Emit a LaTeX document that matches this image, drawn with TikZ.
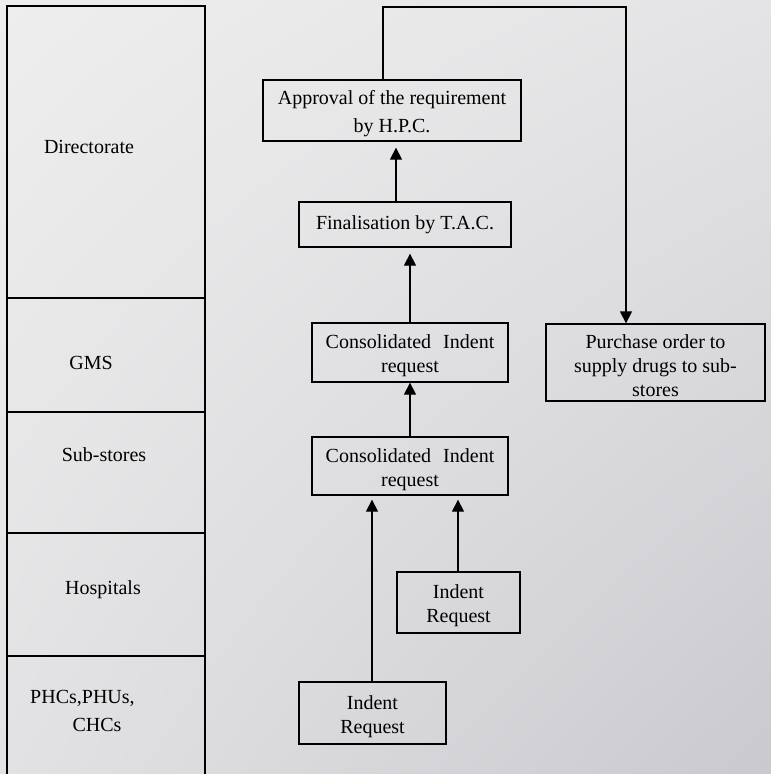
\documentclass[tikz,border=0pt]{standalone}
\usepackage{fontspec}
\setmainfont{Liberation Serif}
\usetikzlibrary{arrows.meta,shadings}
\definecolor{paperUL}{RGB}{238,238,238}
\definecolor{paperUR}{RGB}{228,228,230}
\definecolor{paperLL}{RGB}{226,226,228}
\definecolor{paperLR}{RGB}{202,201,206}
% taller first line, sets the text block a little lower in its box
\newcommand\firstline{\rule{0pt}{21pt}}
\begin{document}
\begin{tikzpicture}[x=1pt,y=-1pt,
  txt/.style={font=\fontsize{20}{24}\selectfont},
  box/.style={txt, draw, line width=1.3pt, align=center, inner sep=0pt},
  lane/.style={txt, align=center, inner sep=0pt},
  arr/.style={-{Triangle[length=12pt,width=12pt]}, line width=1.3pt},
  rule/.style={line width=1.3pt}]

% paper background
\shade[upper left=paperUL, upper right=paperUR,
       lower left=paperLL, lower right=paperLR]
  (0,0) rectangle (771,774);
\useasboundingbox (0,0) rectangle (771,774);

% level column on the left
\draw[rule] (7,774) -- (7,6) -- (205,6) -- (205,774);
\draw[rule] (7,298) -- (205,298);
\draw[rule] (7,412) -- (205,412);
\draw[rule] (7,533) -- (205,533);
\draw[rule] (7,656) -- (205,656);

\node[lane] (lDir) at (89,147) {Directorate};
\node[lane] (lGms) at (91,363) {GMS};
\node[lane] (lSub) at (104,455) {Sub-stores};
\node[lane] (lHos) at (103,590) {Hospitals};
\node[lane, anchor=west] (lPhc1) at (30,698) {PHCs,PHUs,};
\node[lane] (lPhc2) at (97,725) {CHCs};

% process boxes
\node[box, minimum width=258pt, minimum height=61pt] (approve) at (392,110.5)
  {\firstline Approval of the requirement\\[4pt]by H.P.C.};
\node[box, minimum width=212pt, minimum height=45pt] (final) at (405,224.5)
  {Finalisation by T.A.C.};
\node[box, minimum width=196pt, minimum height=59pt] (cons1) at (410,352.5)
  {\firstline Consolidated\hspace{0.6em}Indent\\request};
\node[box, minimum width=219pt, minimum height=77pt] (purchase) at (655.5,362.5)
  {\firstline Purchase order to\\supply drugs to sub-\\stores};
\node[box, minimum width=196pt, minimum height=58pt] (cons2) at (410,466)
  {\firstline Consolidated\hspace{0.6em}Indent\\request};
\node[box, minimum width=123pt, minimum height=61pt] (indH) at (458.5,602.5)
  {\firstline Indent\\Request};
\node[box, minimum width=147pt, minimum height=62pt] (indP) at (372.5,713)
  {\firstline Indent\\Request};

% connector columns
\coordinate (xA) at (396,0);
\coordinate (xF) at (383,0);
\coordinate (xTop) at (383,7);
\coordinate (xTopR) at (626,7);
\coordinate (xP) at (372,0);
\coordinate (xH) at (458,0);

\draw[arr, shorten >=6pt] (final.north -| xA) -- (approve.south -| xA);
\draw[arr, shorten >=6pt] (cons1.north) -- (final.south -| cons1.north);
\draw[arr] (cons2.north) -- (cons1.south);
\draw[arr, shorten >=4pt] (indP.north -| xP) -- (cons2.south -| xP);
\draw[arr, shorten >=4pt] (indH.north -| xH) -- (cons2.south -| xH);
\draw[arr] (approve.north -| xF) -- (xTop) -- (xTopR) -- (purchase.north -| xTopR);

\end{tikzpicture}
\end{document}
